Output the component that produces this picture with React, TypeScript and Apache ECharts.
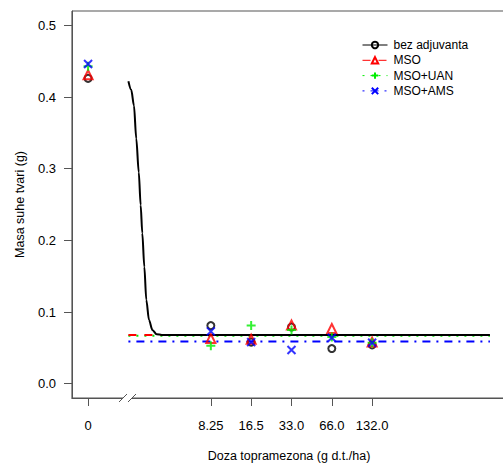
import React, { useEffect, useRef } from "react";
import * as echarts from "echarts";

// treatments
const groups = ["bez adjuvanta", "MSO", "MSO+UAN", "MSO+AMS"];
// x ticks (dose 0 is drawn at 1 on the log axis)
const doseTicks = [1, 8.25, 16.5, 33, 66, 132];
const doseTickLabels = ["0", "8.25", "16.5", "33.0", "66.0", "132.0"];
const yTicks = [0, 0.1, 0.2, 0.3, 0.4, 0.5];

// observed values at doseTicks
const obsBez = [0.426, 0.081, 0.058, 0.079, 0.049, 0.054];
const obsMSO = [0.431, 0.063, 0.062, 0.082, 0.077, 0.058];
const obsUAN = [0.443, 0.053, 0.081, 0.075, 0.065, 0.057];
const obsAMS = [0.446, 0.073, 0.058, 0.047, 0.064, 0.057];

// fitted curves
const curveDose = [2.0, 2.1, 2.2, 2.29, 2.39, 2.47, 2.54, 2.63, 2.72, 2.85, 3.02, 3.25, 3.55, 5, 1000];
const curveBez = [0.422, 0.41, 0.388, 0.342, 0.295, 0.249, 0.21, 0.163, 0.117, 0.089, 0.075, 0.069, 0.068, 0.068, 0.068];
const lineDose = [2, 1000];
const lineMSO = [0.068, 0.068];
const lineUAN = [0.067, 0.067];
const lineAMS = [0.059, 0.059];

const colors = ["#000000", "#ff0000", "#00ee00", "#0000ff"];
const dashes: any[] = ["solid", [8, 8], [2, 6], [2, 6, 8, 6]];
const symbols = [
  "circle",
  "triangle",
  "path://M5,0L5,10M0,5L10,5",
  "path://M0,0L10,10M10,0L0,10",
];
const symbolSizes = [7, 9, 9, 8];

const FONT = "Liberation Sans, Arial, sans-serif";
const AXIS = "#555";

export default function App() {
  const ref = useRef<HTMLDivElement>(null);
  useEffect(() => {
    if (!ref.current) return;
    const chart = echarts.init(ref.current, undefined, { renderer: "svg" });
    const obs = [obsBez, obsMSO, obsUAN, obsAMS];
    const fits = [curveBez, lineMSO, lineUAN, lineAMS];
    const fitDoses = [curveDose, lineDose, lineDose, lineDose];

    const lineSeries = groups.map((g, i) => ({
      name: g,
      type: "line",
      data: fitDoses[i].map((d, j) => [d, fits[i][j]]),
      showSymbol: false,
      symbol: symbols[i],
      symbolSize: symbolSizes[i],
      smooth: i === 0 ? 0.3 : false,
      smoothMonotone: "x",
      lineStyle: { color: colors[i], width: 2, type: dashes[i] },
      itemStyle: { color: "transparent", borderColor: colors[i], borderWidth: 1.2 },
      z: 2 + (3 - i),
      silent: true,
    }));
    const scatterSeries = groups.map((g, i) => ({
      name: g,
      type: "scatter",
      data: doseTicks.map((d, j) => [d, obs[i][j]]),
      symbol: symbols[i],
      symbolSize: symbolSizes[i],
      itemStyle: { color: "transparent", borderColor: colors[i], borderWidth: 2 },
      z: 10 + i,
      silent: true,
    }));

    chart.setOption({
      animation: false,
      backgroundColor: "#ffffff",
      textStyle: { fontFamily: FONT },
      grid: {
        left: 72,
        top: 11,
        width: 434,
        height: 387,
        containLabel: false,
        outerBoundsMode: "none",
      },
      legend: {
        data: groups,
        orient: "vertical",
        left: 357,
        top: 34,
        itemWidth: 25,
        itemHeight: 8,
        itemGap: 3.3,
        selectedMode: false,
        lineStyle: { width: 1 },
        textStyle: { fontSize: 12, lineHeight: 12, color: "#000", fontFamily: FONT, padding: [0, 0, 0, 1] },
      },
      xAxis: {
        type: "log",
        logBase: 10,
        min: 0.7586,
        max: 1318,
        position: "bottom",
        axisLine: { show: true, onZero: false, lineStyle: { color: AXIS, width: 1 } },
        splitLine: { show: false },
        minorTick: { show: false },
        axisTick: { show: true, customValues: doseTicks, length: 8, lineStyle: { color: AXIS } },
        axisLabel: {
          customValues: doseTicks,
          margin: 21,
          fontSize: 13,
          color: "#000",
          fontFamily: FONT,
          formatter: (v: number) => {
            const k = doseTicks.findIndex((d) => Math.abs(d - v) / d < 1e-4);
            return k >= 0 ? doseTickLabels[k] : "";
          },
        },
        name: "Doza topramezona (g d.t./ha)",
        nameLocation: "middle",
        nameGap: 51,
        nameTextStyle: { fontSize: 12.5, color: "#000", fontFamily: FONT },
      },
      yAxis: {
        type: "value",
        min: -0.02,
        max: 0.52,
        axisLine: { show: true, onZero: false, lineStyle: { color: AXIS, width: 1 } },
        splitLine: { show: false },
        axisTick: { show: true, customValues: yTicks, length: 8, lineStyle: { color: AXIS } },
        axisLabel: {
          customValues: yTicks,
          margin: 16,
          fontSize: 13,
          color: "#000",
          fontFamily: FONT,
          formatter: (v: number) => v.toFixed(1),
        },
        name: "Masa suhe tvari (g)",
        nameLocation: "middle",
        nameGap: 46,
        nameTextStyle: { fontSize: 12.5, color: "#000", fontFamily: FONT },
      },
      graphic: [
        { type: "line", z: 99, silent: true, shape: { x1: 72, y1: 11, x2: 72, y2: 398.5 }, style: { stroke: AXIS, lineWidth: 1.2 } },
        { type: "line", z: 99, silent: true, shape: { x1: 72, y1: 11, x2: 503, y2: 11 }, style: { stroke: AXIS, lineWidth: 1.2 } },
        { type: "line", z: 99, silent: true, shape: { x1: 72, y1: 398, x2: 503, y2: 398 }, style: { stroke: AXIS, lineWidth: 1.2 } },
        { type: "rect", z: 100, shape: { x: 123, y: 395, width: 9, height: 6 }, style: { fill: "#fff" } },
        { type: "line", z: 101, shape: { x1: 119, y1: 402, x2: 127, y2: 394 }, style: { stroke: AXIS, lineWidth: 1 } },
        { type: "line", z: 101, shape: { x1: 128, y1: 402, x2: 136, y2: 394 }, style: { stroke: AXIS, lineWidth: 1 } },
      ],
      series: [...lineSeries, ...scatterSeries],
    });
    return () => chart.dispose();
  }, []);
  return (
    <div
      ref={ref}
      style={{ position: "fixed", left: 0, top: 0, width: 503, height: 464, background: "#fff" }}
    />
  );
}
